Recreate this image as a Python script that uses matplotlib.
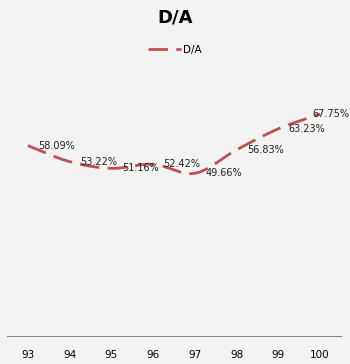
import matplotlib
matplotlib.use("Agg")
import matplotlib.pyplot as plt
import numpy as np

categories = ["93", "94", "95", "96", "97", "98", "99", "100"]
values = [0.5809, 0.5322, 0.5116, 0.5242, 0.4966, 0.5683, 0.6323, 0.6775]
labels = ["58.09%", "53.22%", "51.16%", "52.42%", "49.66%", "56.83%", "63.23%", "67.75%"]

bg = "#f3f3f3"
line_color = "#c0504d"

fig = plt.figure(figsize=(3.5, 3.64), dpi=100, facecolor=bg)
ax = fig.add_axes([0.02, 0.077, 0.954, 0.72], facecolor=bg)

x = np.arange(len(categories))
y = np.array(values)

# Catmull-Rom smoothing (Excel-like smoothed line)
def smooth(xp, yp, n=20):
    px = np.concatenate([[2*xp[0]-xp[1]], xp, [2*xp[-1]-xp[-2]]])
    py = np.concatenate([[2*yp[0]-yp[1]], yp, [2*yp[-1]-yp[-2]]])
    xs, ys = [], []
    for i in range(1, len(px)-2):
        t = np.linspace(0, 1, n, endpoint=False)
        for arr, out in ((px, xs), (py, ys)):
            p0, p1, p2, p3 = arr[i-1], arr[i], arr[i+1], arr[i+2]
            out.extend(0.5*((2*p1) + (-p0+p2)*t + (2*p0-5*p1+4*p2-p3)*t**2 + (-p0+3*p1-3*p2+p3)*t**3))
    xs.append(xp[-1]); ys.append(yp[-1])
    return np.array(xs), np.array(ys)

sx, sy = smooth(x.astype(float), y)
ax.plot(sx, sy, color=line_color, lw=2, dashes=(7, 3), label="D/A")

for i, (xi, yi, lab) in enumerate(zip(x, y, labels)):
    if i < len(x) - 1:
        ax.text(xi + 0.25, yi, lab, fontsize=7, va="center", ha="left", color="#222222")
    else:
        ax.annotate(lab, xy=(xi, yi), xycoords="data", xytext=(0.998, 0), textcoords=("figure fraction", "offset points"),
                    fontsize=7, va="center", ha="right", color="#222222")

ax.set_xlim(-0.5, 7.5)
ax.set_ylim(0, 0.8)
ax.set_xticks(x)
ax.set_xticklabels(categories, fontsize=7.5)
ax.tick_params(axis="x", length=0, pad=10)
ax.set_yticks([])
for s in ["top", "right", "left"]:
    ax.spines[s].set_visible(False)
ax.spines["bottom"].set_color("#888888")

fig.text(0.5, 0.953, "D/A", ha="center", va="center", fontsize=13, fontweight="bold")
leg = fig.legend(loc="center", bbox_to_anchor=(0.5, 0.863), frameon=False, fontsize=7.5,
                 handlelength=3.2, handletextpad=0.2)

fig.savefig("out.png", dpi=100, facecolor=bg)
